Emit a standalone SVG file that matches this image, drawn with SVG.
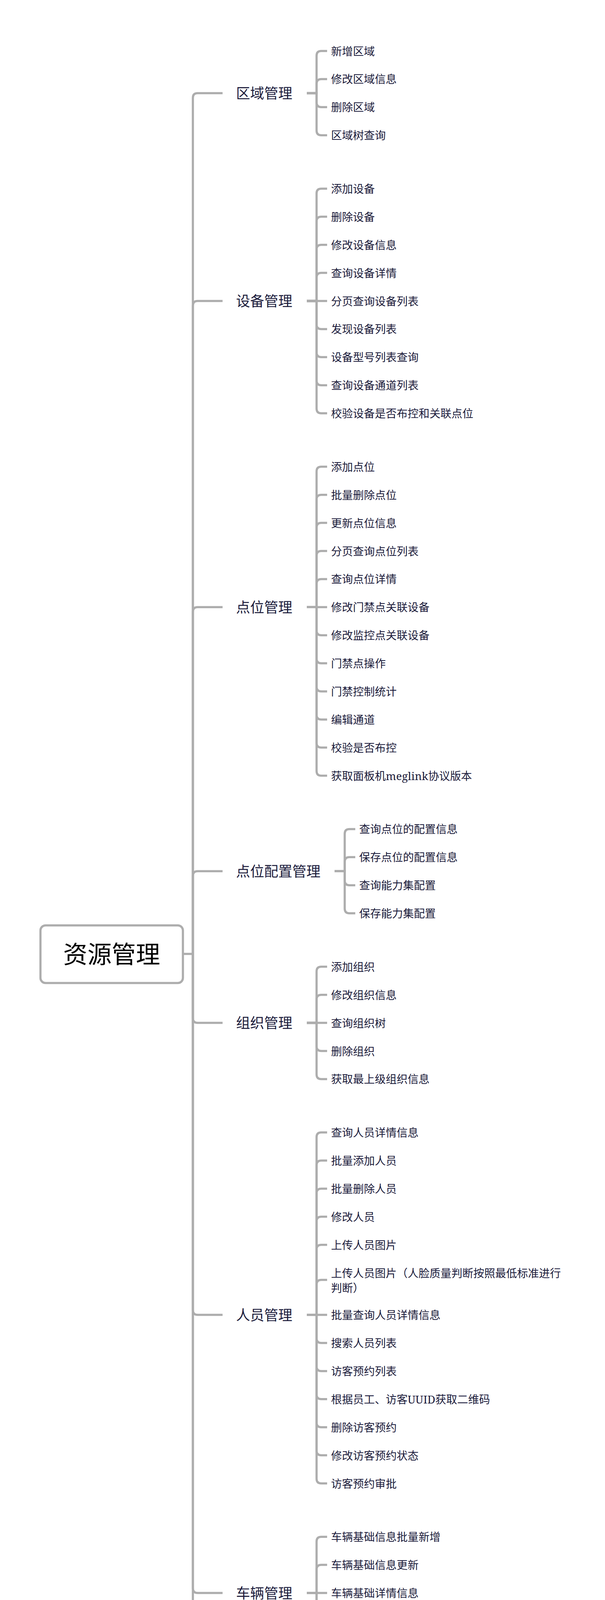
<svg xmlns="http://www.w3.org/2000/svg" width="1548" height="5129" viewBox="0 0 1548 5129">
<style>
text, tspan { font-family: "Noto Serif", "Liberation Serif", "Noto Sans CJK SC", serif; dominant-baseline: central; }
.leaf { font-size: 28px; fill: #1b1b3b; }
.cat { font-size: 36px; fill: #1b1b3b; }
.root { font-size: 62px; fill: #000000; text-anchor: middle; }
.ln { fill: none; stroke: #adadad; stroke-width: 5.5; }
.box { fill: #ffffff; stroke: #adadad; stroke-width: 5.5; }
</style>
<rect width="1548" height="5129" fill="#ffffff"/>
<g id="connectors">
  <path class="ln" d="M468 2442 H493.5"/>
  <path class="ln" d="M493.5 2442 V250.4 Q493.5 238.4 505.5 238.4 H569.5"/>
  <path class="ln" d="M493.5 2442 V782.5 Q493.5 770.5 505.5 770.5 H569.5"/>
  <path class="ln" d="M493.5 2442 V1566.3 Q493.5 1554.3 505.5 1554.3 H569.5"/>
  <path class="ln" d="M493.5 2442 V2242.3 Q493.5 2230.3 505.5 2230.3 H569.5"/>
  <path class="ln" d="M493.5 2442 V2606.6 Q493.5 2618.6 505.5 2618.6 H569.5"/>
  <path class="ln" d="M493.5 2442 V3354.1 Q493.5 3366.1 505.5 3366.1 H569.5"/>
  <path class="ln" d="M493.5 2442 V4066 Q493.5 4078 505.5 4078 H569.5"/>
  <path class="ln" d="M493.5 2442 V4634.1 Q493.5 4646.1 505.5 4646.1 H569.5"/>

  <path class="ln" d="M785 238.4 H810 V142.5 Q810 130.5 822 130.5 H837"/>
  <path class="ln" d="M785 238.4 H810 V214.4 Q810 202.4 822 202.4 H837"/>
  <path class="ln" d="M785 238.4 H810 V262.3 Q810 274.3 822 274.3 H837"/>
  <path class="ln" d="M785 238.4 H810 V334.2 Q810 346.2 822 346.2 H837"/>

  <path class="ln" d="M785 770.5 H810 V494.9 Q810 482.9 822 482.9 H837"/>
  <path class="ln" d="M785 770.5 H810 V566.8 Q810 554.8 822 554.8 H837"/>
  <path class="ln" d="M785 770.5 H810 V638.7 Q810 626.7 822 626.7 H837"/>
  <path class="ln" d="M785 770.5 H810 V710.6 Q810 698.6 822 698.6 H837"/>
  <path class="ln" d="M785 770.5 H837"/>
  <path class="ln" d="M785 770.5 H810 V830.4 Q810 842.4 822 842.4 H837"/>
  <path class="ln" d="M785 770.5 H810 V902.3 Q810 914.3 822 914.3 H837"/>
  <path class="ln" d="M785 770.5 H810 V974.2 Q810 986.2 822 986.2 H837"/>
  <path class="ln" d="M785 770.5 H810 V1046.1 Q810 1058.1 822 1058.1 H837"/>

  <path class="ln" d="M785 1554.3 H810 V1206.8 Q810 1194.8 822 1194.8 H837"/>
  <path class="ln" d="M785 1554.3 H810 V1278.7 Q810 1266.7 822 1266.7 H837"/>
  <path class="ln" d="M785 1554.3 H810 V1350.6 Q810 1338.6 822 1338.6 H837"/>
  <path class="ln" d="M785 1554.3 H810 V1422.5 Q810 1410.5 822 1410.5 H837"/>
  <path class="ln" d="M785 1554.3 H810 V1494.4 Q810 1482.4 822 1482.4 H837"/>
  <path class="ln" d="M785 1554.3 H837"/>
  <path class="ln" d="M785 1554.3 H810 V1614.2 Q810 1626.2 822 1626.2 H837"/>
  <path class="ln" d="M785 1554.3 H810 V1686.1 Q810 1698.1 822 1698.1 H837"/>
  <path class="ln" d="M785 1554.3 H810 V1758 Q810 1770 822 1770 H837"/>
  <path class="ln" d="M785 1554.3 H810 V1829.9 Q810 1841.9 822 1841.9 H837"/>
  <path class="ln" d="M785 1554.3 H810 V1901.8 Q810 1913.8 822 1913.8 H837"/>
  <path class="ln" d="M785 1554.3 H810 V1973.7 Q810 1985.7 822 1985.7 H837"/>

  <path class="ln" d="M856 2230.3 H882 V2134.4 Q882 2122.4 894 2122.4 H909"/>
  <path class="ln" d="M856 2230.3 H882 V2206.3 Q882 2194.3 894 2194.3 H909"/>
  <path class="ln" d="M856 2230.3 H882 V2254.2 Q882 2266.2 894 2266.2 H909"/>
  <path class="ln" d="M856 2230.3 H882 V2326.1 Q882 2338.1 894 2338.1 H909"/>

  <path class="ln" d="M785 2618.6 H810 V2486.8 Q810 2474.8 822 2474.8 H837"/>
  <path class="ln" d="M785 2618.6 H810 V2558.7 Q810 2546.7 822 2546.7 H837"/>
  <path class="ln" d="M785 2618.6 H837"/>
  <path class="ln" d="M785 2618.6 H810 V2678.5 Q810 2690.5 822 2690.5 H837"/>
  <path class="ln" d="M785 2618.6 H810 V2750.4 Q810 2762.4 822 2762.4 H837"/>

  <path class="ln" d="M785 3366.1 H810 V2911.1 Q810 2899.1 822 2899.1 H837"/>
  <path class="ln" d="M785 3366.1 H810 V2983 Q810 2971 822 2971 H837"/>
  <path class="ln" d="M785 3366.1 H810 V3054.9 Q810 3042.9 822 3042.9 H837"/>
  <path class="ln" d="M785 3366.1 H810 V3126.8 Q810 3114.8 822 3114.8 H837"/>
  <path class="ln" d="M785 3366.1 H810 V3198.7 Q810 3186.7 822 3186.7 H837"/>
  <path class="ln" d="M785 3366.1 H810 V3288.4 Q810 3276.4 822 3276.4 H837"/>
  <path class="ln" d="M785 3366.1 H837"/>
  <path class="ln" d="M785 3366.1 H810 V3426 Q810 3438 822 3438 H837"/>
  <path class="ln" d="M785 3366.1 H810 V3497.9 Q810 3509.9 822 3509.9 H837"/>
  <path class="ln" d="M785 3366.1 H810 V3569.8 Q810 3581.8 822 3581.8 H837"/>
  <path class="ln" d="M785 3366.1 H810 V3641.7 Q810 3653.7 822 3653.7 H837"/>
  <path class="ln" d="M785 3366.1 H810 V3713.6 Q810 3725.6 822 3725.6 H837"/>
  <path class="ln" d="M785 3366.1 H810 V3785.5 Q810 3797.5 822 3797.5 H837"/>

  <path class="ln" d="M785 4078 H810 V3946.2 Q810 3934.2 822 3934.2 H837"/>
  <path class="ln" d="M785 4078 H810 V4018.1 Q810 4006.1 822 4006.1 H837"/>
  <path class="ln" d="M785 4078 H837"/>
  <path class="ln" d="M785 4078 H810 V4137.9 Q810 4149.9 822 4149.9 H837"/>
  <path class="ln" d="M785 4078 H810 V4209.8 Q810 4221.8 822 4221.8 H837"/>

  <path class="ln" d="M785 4646.1 H810 V4370.5 Q810 4358.5 822 4358.5 H837"/>
  <path class="ln" d="M785 4646.1 H810 V4442.4 Q810 4430.4 822 4430.4 H837"/>
  <path class="ln" d="M785 4646.1 H810 V4514.3 Q810 4502.3 822 4502.3 H837"/>
  <path class="ln" d="M785 4646.1 H810 V4586.2 Q810 4574.2 822 4574.2 H837"/>
  <path class="ln" d="M785 4646.1 H837"/>
  <path class="ln" d="M785 4646.1 H810 V4706 Q810 4718 822 4718 H837"/>
  <path class="ln" d="M785 4646.1 H810 V4777.9 Q810 4789.9 822 4789.9 H837"/>
  <path class="ln" d="M785 4646.1 H810 V4849.8 Q810 4861.8 822 4861.8 H837"/>
  <path class="ln" d="M785 4646.1 H810 V4921.7 Q810 4933.7 822 4933.7 H837"/>
</g>

<g id="root">
  <rect class="box" x="103.5" y="2369" width="364.5" height="147.5" rx="13"/>
  <text class="root" x="285.7" y="2442">资源管理</text>
</g>

<g id="cat-area"><text class="cat" x="604" y="238.4">区域管理</text></g>
<g id="cat-device"><text class="cat" x="604" y="770.5">设备管理</text></g>
<g id="cat-point"><text class="cat" x="604" y="1554.3">点位管理</text></g>
<g id="cat-pointcfg"><text class="cat" x="604" y="2230.3">点位配置管理</text></g>
<g id="cat-org"><text class="cat" x="604" y="2618.6">组织管理</text></g>
<g id="cat-person"><text class="cat" x="604" y="3366.1">人员管理</text></g>
<g id="cat-vehicle"><text class="cat" x="604" y="4078">车辆管理</text></g>
<g id="cat-card"><text class="cat" x="604" y="4646.1">卡片管理</text></g>

<g id="leaves-area">
  <g id="a1"><text class="leaf" x="847" y="130.5">新增区域</text></g>
  <g id="a2"><text class="leaf" x="847" y="202.4">修改区域信息</text></g>
  <g id="a3"><text class="leaf" x="847" y="274.3">删除区域</text></g>
  <g id="a4"><text class="leaf" x="847" y="346.2">区域树查询</text></g>
</g>
<g id="leaves-device">
  <g id="d1"><text class="leaf" x="847" y="482.9">添加设备</text></g>
  <g id="d2"><text class="leaf" x="847" y="554.8">删除设备</text></g>
  <g id="d3"><text class="leaf" x="847" y="626.7">修改设备信息</text></g>
  <g id="d4"><text class="leaf" x="847" y="698.6">查询设备详情</text></g>
  <g id="d5"><text class="leaf" x="847" y="770.5">分页查询设备列表</text></g>
  <g id="d6"><text class="leaf" x="847" y="842.4">发现设备列表</text></g>
  <g id="d7"><text class="leaf" x="847" y="914.3">设备型号列表查询</text></g>
  <g id="d8"><text class="leaf" x="847" y="986.2">查询设备通道列表</text></g>
  <g id="d9"><text class="leaf" x="847" y="1058.1">校验设备是否布控和关联点位</text></g>
</g>
<g id="leaves-point">
  <g id="p1"><text class="leaf" x="847" y="1194.8">添加点位</text></g>
  <g id="p2"><text class="leaf" x="847" y="1266.7">批量删除点位</text></g>
  <g id="p3"><text class="leaf" x="847" y="1338.6">更新点位信息</text></g>
  <g id="p4"><text class="leaf" x="847" y="1410.5">分页查询点位列表</text></g>
  <g id="p5"><text class="leaf" x="847" y="1482.4">查询点位详情</text></g>
  <g id="p6"><text class="leaf" x="847" y="1554.3">修改门禁点关联设备</text></g>
  <g id="p7"><text class="leaf" x="847" y="1626.2">修改监控点关联设备</text></g>
  <g id="p8"><text class="leaf" x="847" y="1698.1">门禁点操作</text></g>
  <g id="p9"><text class="leaf" x="847" y="1770">门禁控制统计</text></g>
  <g id="p10"><text class="leaf" x="847" y="1841.9">编辑通道</text></g>
  <g id="p11"><text class="leaf" x="847" y="1913.8">校验是否布控</text></g>
  <g id="p12"><text class="leaf" x="847" y="1985.7">获取面板机meglink协议版本</text></g>
</g>
<g id="leaves-pointcfg">
  <g id="c1"><text class="leaf" x="919" y="2122.4">查询点位的配置信息</text></g>
  <g id="c2"><text class="leaf" x="919" y="2194.3">保存点位的配置信息</text></g>
  <g id="c3"><text class="leaf" x="919" y="2266.2">查询能力集配置</text></g>
  <g id="c4"><text class="leaf" x="919" y="2338.1">保存能力集配置</text></g>
</g>
<g id="leaves-org">
  <g id="o1"><text class="leaf" x="847" y="2474.8">添加组织</text></g>
  <g id="o2"><text class="leaf" x="847" y="2546.7">修改组织信息</text></g>
  <g id="o3"><text class="leaf" x="847" y="2618.6">查询组织树</text></g>
  <g id="o4"><text class="leaf" x="847" y="2690.5">删除组织</text></g>
  <g id="o5"><text class="leaf" x="847" y="2762.4">获取最上级组织信息</text></g>
</g>
<g id="leaves-person">
  <g id="u1"><text class="leaf" x="847" y="2899.1">查询人员详情信息</text></g>
  <g id="u2"><text class="leaf" x="847" y="2971">批量添加人员</text></g>
  <g id="u3"><text class="leaf" x="847" y="3042.9">批量删除人员</text></g>
  <g id="u4"><text class="leaf" x="847" y="3114.8">修改人员</text></g>
  <g id="u5"><text class="leaf" x="847" y="3186.7">上传人员图片</text></g>
  <g id="u6"><text class="leaf" x="847" y="3259"><tspan x="847" y="3259">上传人员图片（人脸质量判断按照最低标准进行</tspan><tspan x="847" y="3296.5">判断）</tspan></text></g>
  <g id="u7"><text class="leaf" x="847" y="3366.1">批量查询人员详情信息</text></g>
  <g id="u8"><text class="leaf" x="847" y="3438">搜索人员列表</text></g>
  <g id="u9"><text class="leaf" x="847" y="3509.9">访客预约列表</text></g>
  <g id="u10"><text class="leaf" x="847" y="3581.8">根据员工、访客UUID获取二维码</text></g>
  <g id="u11"><text class="leaf" x="847" y="3653.7">删除访客预约</text></g>
  <g id="u12"><text class="leaf" x="847" y="3725.6">修改访客预约状态</text></g>
  <g id="u13"><text class="leaf" x="847" y="3797.5">访客预约审批</text></g>
</g>
<g id="leaves-vehicle">
  <g id="v1"><text class="leaf" x="847" y="3934.2">车辆基础信息批量新增</text></g>
  <g id="v2"><text class="leaf" x="847" y="4006.1">车辆基础信息更新</text></g>
  <g id="v3"><text class="leaf" x="847" y="4078">车辆基础详情信息</text></g>
  <g id="v4"><text class="leaf" x="847" y="4149.9">车辆基础信息列表</text></g>
  <g id="v5"><text class="leaf" x="847" y="4221.8">车辆基础信息批量删除</text></g>
</g>
<g id="leaves-card">
  <g id="k1"><text class="leaf" x="847" y="4358.5">新增空白卡</text></g>
  <g id="k2"><text class="leaf" x="847" y="4430.4">批量删除空白卡</text></g>
  <g id="k3"><text class="leaf" x="847" y="4502.3">更新卡片有效期</text></g>
  <g id="k4"><text class="leaf" x="847" y="4574.2">卡片列表检索</text></g>
  <g id="k5"><text class="leaf" x="847" y="4646.1">批量退卡</text></g>
  <g id="k6"><text class="leaf" x="847" y="4718">换卡</text></g>
  <g id="k7"><text class="leaf" x="847" y="4789.9">卡片挂失</text></g>
  <g id="k8"><text class="leaf" x="847" y="4861.8">卡片解挂</text></g>
  <g id="k9"><text class="leaf" x="847" y="4933.7">人卡绑定</text></g>
</g>
</svg>
